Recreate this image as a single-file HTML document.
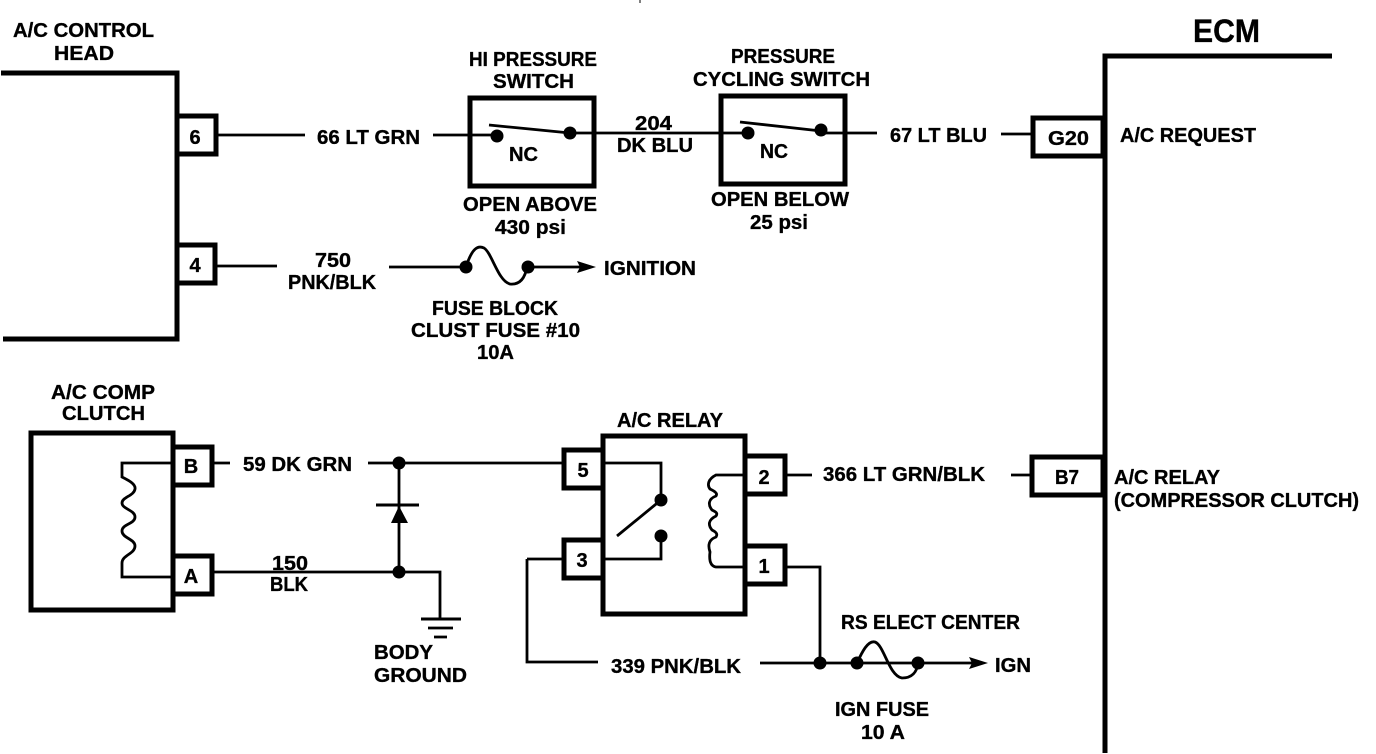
<!DOCTYPE html>
<html>
<head>
<meta charset="utf-8">
<title>A/C wiring diagram</title>
<style>
html,body{margin:0;padding:0;background:#fff;width:1376px;height:754px;overflow:hidden}
svg{display:block}
text{font-family:"Liberation Sans",sans-serif;font-weight:700;font-size:20px;fill:#000;stroke:#000;stroke-width:.35}
.w{fill:none;stroke:#000;stroke-width:2.8}
.t{fill:none;stroke:#000;stroke-width:5}
.p{fill:#fff;stroke:#000;stroke-width:5}
.m{text-anchor:middle}
</style>
</head>
<body>
<svg width="1376" height="754" viewBox="0 0 1376 754" xmlns="http://www.w3.org/2000/svg">
<rect width="1376" height="754" fill="#fff"/>
<path d="M640 0V3" class="w" style="stroke-width:1"/>

<!-- Control head -->
<path class="t" d="M1 73H177V339H3"/>
<rect class="p" x="177" y="116" width="39" height="38"/>
<rect class="p" x="177" y="245" width="38" height="38"/>
<path class="w" d="M216 135H305M433 135H497M570 133H720M845 133H877M1001 134H1031"/>
<path class="w" d="M217 266H277M389 267H466M527 267H580"/>

<!-- Switches -->
<rect class="t" x="470" y="98" width="124" height="88"/>
<rect class="t" x="721" y="96" width="124" height="88"/>
<path class="w" d="M720 133H748M821 133H845"/>
<path class="w" d="M489 125L570 133M740 122L821 131"/>
<circle cx="497" cy="136" r="6.5"/><circle cx="570" cy="133" r="6.5"/>
<circle cx="748" cy="133" r="6.5"/><circle cx="821" cy="130" r="6.5"/>

<!-- Fuse 1 -->
<path class="w" d="M466 267C472 248 478 245 484 248C492 253 498 281 510 284C520 285 525 278 527 267"/>
<circle cx="466" cy="267" r="6.5"/><circle cx="528" cy="267" r="6.5"/>
<path d="M596 267L577 261L580 267L577 273Z"/>

<!-- ECM -->
<path class="t" d="M1332 56H1105V753"/>
<rect class="p" x="1033" y="118" width="70" height="38"/>
<rect class="p" x="1032" y="457" width="71" height="38"/>
<path class="w" d="M1011 475H1030"/>

<!-- Clutch -->
<rect class="t" x="31" y="433" width="142" height="177"/>
<rect class="p" x="173" y="447" width="39" height="38"/>
<rect class="p" x="173" y="556" width="39" height="38"/>
<path class="w" d="M173 463H122V477C128 480 136 484 135 489C134 496 122 497 122 503C122 509 135 510 135 517C135 524 122 524 122 531C122 538 135 539 135 546C135 554 122 555 122 563V577H173"/>

<!-- Wires bottom left -->
<path class="w" d="M214 463H230M368 463H562M214 572H440V619M399 463V572"/>
<path class="w" d="M527 559H562M527 559V662H598"/>
<path class="w" d="M376 505H419" style="stroke-width:3"/>
<path d="M399 506L391 523H408Z"/>
<circle cx="399" cy="463" r="6.5"/><circle cx="399" cy="572" r="6.5"/>
<path class="w" d="M421 619H461" style="stroke-width:3"/>
<path class="w" d="M428 628H453M434 637H447"/>

<!-- Relay -->
<rect class="t" x="603" y="436" width="142" height="178"/>
<rect class="p" x="564" y="450" width="39" height="38"/>
<rect class="p" x="564" y="540" width="39" height="38"/>
<rect class="p" x="745" y="456" width="40" height="38"/>
<rect class="p" x="745" y="546" width="40" height="38"/>
<path class="w" d="M603 463H661V500M661 536V559H603M661 500L617 536"/>
<circle cx="661" cy="500" r="6.5"/><circle cx="661" cy="536" r="6.5"/>
<path class="w" d="M745 475H716C708 479 707 485 710 489C714 491 718 493 716 496C708 499 708 505 712 510C716 512 718 513 716 516C708 520 708 525 712 530C716 532 718 534 716 537C708 540 708 546 710 552C709 560 710 566 716 567H745"/>
<path class="w" d="M787 475H812"/>
<path class="w" d="M787 567H820V663M760 663H975"/>
<path class="w" d="M857 663C862 652 868 640 875 642C884 645 889 676 902 678C912 678 917 672 918 663"/>
<circle cx="820" cy="663" r="6.5"/><circle cx="857" cy="663" r="6.5"/><circle cx="918" cy="663" r="6.5"/>
<path d="M988 663L969 657L972 663L969 669Z"/>

<!-- Labels -->
<text x="13" y="37" textLength="141" lengthAdjust="spacingAndGlyphs">A/C CONTROL</text>
<text x="54" y="60" textLength="60" lengthAdjust="spacingAndGlyphs">HEAD</text>
<text x="469" y="66" textLength="128" lengthAdjust="spacingAndGlyphs">HI PRESSURE</text>
<text x="493" y="88" textLength="81" lengthAdjust="spacingAndGlyphs">SWITCH</text>
<text x="731" y="63" textLength="104" lengthAdjust="spacingAndGlyphs">PRESSURE</text>
<text x="693" y="86" textLength="177" lengthAdjust="spacingAndGlyphs">CYCLING SWITCH</text>
<text x="1193" y="42" style="font-size:32px" textLength="67" lengthAdjust="spacingAndGlyphs">ECM</text>
<text x="195" y="144" class="m">6</text>
<text x="195" y="272" class="m">4</text>
<text x="317" y="144" textLength="103" lengthAdjust="spacingAndGlyphs">66 LT GRN</text>
<text x="509" y="161" textLength="29" lengthAdjust="spacingAndGlyphs">NC</text>
<text x="635" y="130" textLength="37" lengthAdjust="spacingAndGlyphs">204</text>
<text x="617" y="152" textLength="76" lengthAdjust="spacingAndGlyphs">DK BLU</text>
<text x="760" y="158" textLength="28" lengthAdjust="spacingAndGlyphs">NC</text>
<text x="890" y="142" textLength="97" lengthAdjust="spacingAndGlyphs">67 LT BLU</text>
<text x="1048" y="145" textLength="41" lengthAdjust="spacingAndGlyphs">G20</text>
<text x="1120" y="142" textLength="136" lengthAdjust="spacingAndGlyphs">A/C REQUEST</text>
<text x="463" y="211" textLength="134" lengthAdjust="spacingAndGlyphs">OPEN ABOVE</text>
<text x="495" y="234" textLength="71" lengthAdjust="spacingAndGlyphs">430 psi</text>
<text x="711" y="206" textLength="138" lengthAdjust="spacingAndGlyphs">OPEN BELOW</text>
<text x="750" y="229" textLength="58" lengthAdjust="spacingAndGlyphs">25 psi</text>
<text x="315" y="267" textLength="36" lengthAdjust="spacingAndGlyphs">750</text>
<text x="288" y="289" textLength="88" lengthAdjust="spacingAndGlyphs">PNK/BLK</text>
<text x="604" y="275" textLength="92" lengthAdjust="spacingAndGlyphs">IGNITION</text>
<text x="432" y="315" textLength="126" lengthAdjust="spacingAndGlyphs">FUSE BLOCK</text>
<text x="411" y="337" textLength="169" lengthAdjust="spacingAndGlyphs">CLUST FUSE #10</text>
<text x="477" y="359" textLength="37" lengthAdjust="spacingAndGlyphs">10A</text>
<text x="51" y="399" textLength="104" lengthAdjust="spacingAndGlyphs">A/C COMP</text>
<text x="62" y="420" textLength="83" lengthAdjust="spacingAndGlyphs">CLUTCH</text>
<text x="617" y="427" textLength="106" lengthAdjust="spacingAndGlyphs">A/C RELAY</text>
<text x="191" y="473" class="m">B</text>
<text x="191" y="583" class="m">A</text>
<text x="243" y="471" textLength="109" lengthAdjust="spacingAndGlyphs">59 DK GRN</text>
<text x="272" y="570" textLength="36" lengthAdjust="spacingAndGlyphs">150</text>
<text x="270" y="591" textLength="38" lengthAdjust="spacingAndGlyphs">BLK</text>
<text x="583" y="477" class="m">5</text>
<text x="582" y="567" class="m">3</text>
<text x="764" y="484" class="m">2</text>
<text x="764" y="573" class="m">1</text>
<text x="823" y="481" textLength="162" lengthAdjust="spacingAndGlyphs">366 LT GRN/BLK</text>
<text x="1055" y="484" textLength="24" lengthAdjust="spacingAndGlyphs">B7</text>
<text x="1114" y="484" textLength="106" lengthAdjust="spacingAndGlyphs">A/C RELAY</text>
<text x="1114" y="507" textLength="245" lengthAdjust="spacingAndGlyphs">(COMPRESSOR CLUTCH)</text>
<text x="841" y="629" textLength="179" lengthAdjust="spacingAndGlyphs">RS ELECT CENTER</text>
<text x="374" y="659" textLength="59" lengthAdjust="spacingAndGlyphs">BODY</text>
<text x="374" y="682" textLength="93" lengthAdjust="spacingAndGlyphs">GROUND</text>
<text x="611" y="673" textLength="130" lengthAdjust="spacingAndGlyphs">339 PNK/BLK</text>
<text x="995" y="672" textLength="36" lengthAdjust="spacingAndGlyphs">IGN</text>
<text x="835" y="716" textLength="94" lengthAdjust="spacingAndGlyphs">IGN FUSE</text>
<text x="861" y="739" textLength="44" lengthAdjust="spacingAndGlyphs">10 A</text>
</svg>
</body>
</html>
